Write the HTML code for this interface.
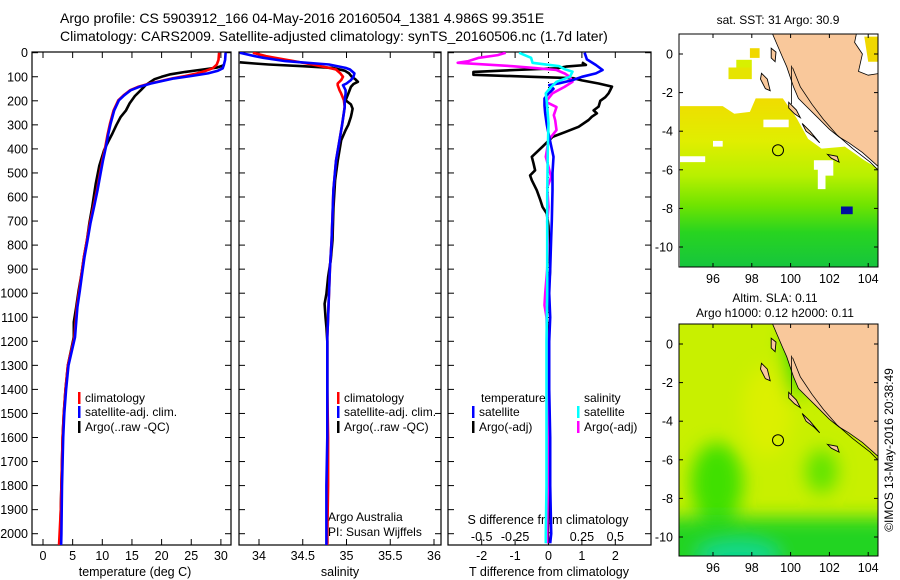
<!DOCTYPE html>
<html><head><meta charset="utf-8">
<style>
html,body{margin:0;padding:0;background:#fff;}
svg{display:block;font-family:"Liberation Sans",sans-serif;}
text{fill:#000;}
</style></head>
<body>
<svg id="fig" width="900" height="580" viewBox="0 0 900 580" xmlns="http://www.w3.org/2000/svg">
<defs>
<clipPath id="c1"><rect x="32" y="52" width="199" height="493"/></clipPath>
<clipPath id="c2"><rect x="239" y="52" width="202" height="493"/></clipPath>
<clipPath id="c3"><rect x="448" y="52" width="203" height="493"/></clipPath>
<clipPath id="m1"><rect x="679" y="34" width="199" height="233"/></clipPath>
<clipPath id="m2"><rect x="679" y="324" width="199" height="232"/></clipPath>
<linearGradient id="sstg" x1="0" y1="0" x2="0" y2="1">
<stop offset="0" stop-color="#f0dc00"/><stop offset="0.25" stop-color="#e0ee00"/>
<stop offset="0.45" stop-color="#b8f000"/><stop offset="0.62" stop-color="#70e400"/>
<stop offset="0.78" stop-color="#28d420"/><stop offset="1" stop-color="#14c440"/>
</linearGradient>
<filter id="blur" x="-50%" y="-50%" width="200%" height="200%"><feGaussianBlur stdDeviation="9"/></filter>
</defs>
<g id="texts">
<text x="60" y="23" font-size="14">Argo profile: CS 5903912_166 04-May-2016 20160504_1381 4.986S 99.351E</text>
<text x="60" y="41" font-size="14">Climatology: CARS2009. Satellite-adjusted climatology: synTS_20160506.nc (1.7d later)</text>
<text x="135" y="576" font-size="12.5" text-anchor="middle">temperature (deg C)</text>
<text x="340" y="576" font-size="12.5" text-anchor="middle">salinity</text>
<text x="549" y="576" font-size="12.5" text-anchor="middle">T difference from climatology</text>
<text x="548" y="524" font-size="12.5" text-anchor="middle">S difference from climatology</text>
<text x="328" y="521" font-size="12">Argo Australia</text>
<text x="328" y="536" font-size="12">PI: Susan Wijffels</text>
<text x="778" y="24" font-size="12" text-anchor="middle">sat. SST: 31  Argo: 30.9</text>
<text x="775" y="302" font-size="12" text-anchor="middle">Altim. SLA: 0.11</text>
<text x="775" y="317" font-size="12" text-anchor="middle">Argo h1000: 0.12 h2000: 0.11</text>
<text x="893" y="450" font-size="12" text-anchor="middle" transform="rotate(-90 893 450)">©IMOS 13-May-2016 20:38:49</text>
</g>
<g id="maps"></g>
<g id="axes"></g>
<g id="series"></g>
<g id="legends"></g>
</svg>
<script>
// ---- data ----
const depthTemp = [0,30,50,65,75,86,97,107,118,128,142,156,177,198,240,295,340,392,450,503,570,642,710,781,850,920,990,1058,1120,1183,1300,1400,1500,1600,1700,1800,1900,2000,2050];
const tempSat = [30.8,30.7,30.5,30.3,29.5,27.8,25,22.1,20,18.2,16.2,14.8,13.7,12.8,12.0,11.4,11.0,10.6,10.1,9.7,9.2,8.6,8.0,7.5,7.0,6.6,6.2,5.8,5.6,5.4,4.3,3.9,3.6,3.4,3.3,3.2,3.15,3.1,3.05];
const tempClim = [29.7,29.6,29.3,28.6,27.5,26,24,21.8,19.8,18,16.0,14.7,13.6,12.7,11.9,11.3,10.9,10.5,10.0,9.6,9.1,8.5,7.9,7.4,6.9,6.5,6.1,5.7,5.5,5.3,4.2,3.8,3.5,3.3,3.2,3.1,3.0,2.8,2.7];
const depthTempArgo = [50,55,62,70,80,90,100,110,120,135,156,180,211,240,267,300,336,370,405,470,544,642,710,781,850,920,990,1058,1120,1183,1300,1400,1500,1600,1700,1800,1900,2000,2040];
const tempArgo = [30.6,30.2,29.3,27,24,21.5,20,18.8,18.2,17.3,16.5,15.5,14.6,14.0,13.1,12.4,11.7,11.0,10.3,9.5,8.9,8.3,7.8,7.4,6.9,6.5,6.0,5.6,5.2,5.2,4.2,3.8,3.5,3.3,3.2,3.1,3.0,2.9,2.8];
const depthSal = [0,14,21,35,49,63,70,86,100,114,128,135,156,170,198,226,300,364,450,572,680,780,900,1000,1100,1183,1400,1600,1800,2000,2050];
const salSat = [33.78,33.95,34.05,34.30,34.80,34.99,35.04,35.09,35.08,35.05,35.0,34.96,34.99,34.99,34.98,34.98,34.95,34.92,34.88,34.85,34.84,34.83,34.81,34.80,34.79,34.78,34.78,34.78,34.77,34.77,34.77];
const salClim = [33.93,34.08,34.18,34.40,34.61,34.80,34.88,34.93,34.96,34.94,34.90,34.90,34.92,34.94,34.97,34.98,34.95,34.92,34.88,34.85,34.84,34.83,34.81,34.80,34.79,34.78,34.78,34.79,34.79,34.78,34.78];
const depthSalArgo = [40,45,49,56,63,75,86,100,110,121,130,142,170,198,215,233,250,267,300,322,364,450,530,650,780,860,933,1003,1044,1100,1141,1200,1400,1600,1800,2000,2040];
const salArgo = [33.78,33.95,34.11,34.5,34.84,34.98,35.03,35.06,35.10,35.13,35.08,35.05,35.02,34.99,35.05,35.07,35.06,35.05,35.02,34.99,34.94,34.90,34.87,34.85,34.84,34.82,34.79,34.77,34.75,34.76,34.77,34.78,34.78,34.78,34.78,34.78,34.78];
const depthTDiffArgo = [40,51,58,65,72,80,92,100,106,115,128,141,155,169,185,200,224,240,252,266,280,308,330,350,391,433,460,489,510,530,572,610,641,669,720,800,900,1000,1100,1200,1300,1400,1500,1600,1700,1800,1900,2000,2040];
const tDiffArgo = [1.0,1.12,0.52,0.25,-1.0,-2.25,-2.25,-0.5,0.75,1.0,1.5,1.9,1.85,1.8,1.7,1.55,1.5,1.35,1.45,1.3,1.2,0.9,0.5,0.12,-0.18,-0.5,-0.45,-0.4,-0.55,-0.5,-0.35,-0.25,-0.18,-0.05,0.0,0.02,0.05,0.0,-0.05,0.0,0.02,0.0,0.02,-0.02,0.0,0.02,0.0,-0.02,0.0];
const depthTDiffSat = [0,28,51,72,86,100,114,128,135,150,170,190,220,253,300,336,400,433,500,572,700,767,900,1000,1100,1200,1400,1600,1800,2000,2040];
const tDiffSat = [1.08,1.15,1.42,1.62,1.42,1.0,0.72,0.3,0.02,0.15,0.0,-0.12,-0.12,-0.1,-0.05,0.0,0.1,0.15,0.12,0.12,0.1,0.08,0.05,0.02,0.05,0.02,0.02,0.05,0.05,0.08,0.05];
const depthSDiffArgo = [0,10,21,35,42,50,56,64,72,86,100,121,142,169,204,226,260,281,322,364,433,517,560,641,700,800,900,1000,1050,1100,1200,1400,1600,1800,2000,2040];
const sDiffArgo = [-0.32,-0.38,-0.52,-0.6,-0.68,-0.45,-0.27,-0.1,0.06,0.12,0.16,0.18,0.12,0.03,-0.02,0.06,0.04,0.05,0.06,0.0,-0.02,0.02,-0.01,0.0,-0.01,-0.005,-0.01,-0.025,-0.03,-0.015,-0.01,-0.01,-0.005,-0.005,-0.01,-0.01];
const depthSDiffSat = [0,10,21,42,56,68,79,100,121,142,169,220,294,400,600,800,1000,1200,1400,1600,1800,2000,2040];
const sDiffSat = [-0.22,-0.18,-0.13,-0.12,0.08,0.12,0.18,0.16,0.06,0.02,-0.02,-0.01,0.0,-0.005,-0.01,-0.01,-0.01,-0.015,-0.015,-0.015,-0.015,-0.02,-0.02];
const depthTicks = [0,100,200,300,400,500,600,700,800,900,1000,1100,1200,1300,1400,1500,1600,1700,1800,1900,2000];
const tempTicks = [0,5,10,15,20,25,30];
const salTicks = [34,34.5,35,35.5,36];
const tDiffTicks = [-2,-1,0,1,2];
const sDiffTicks = [-0.5,-0.25,0,0.25,0.5];
const sDiffTickLabels = ["-0.5","-0.25","0","0.25","0.5"];
const argoLon = 99.351, argoLat = -4.986;
const lonTicks = [96,98,100,102,104];
const latTicks = [0,-2,-4,-6,-8,-10];

// ---- scales ----
const NS="http://www.w3.org/2000/svg";
const yD = d => 52.7 + d*0.2405;
const xT = t => 43 + t*5.93;
const xS = s => 259 + (s-34)*87.5;
const xTD = t => 548.5 + t*33.4;
const xSD = s => 548.5 + s*133.6;
const lonX = l => 713 + (l-96)*19.4;
const latY1 = l => 54 - l*19.3;
const latY2 = l => 344 - l*19.3;

function mk(tag, attrs, parent){const e=document.createElementNS(NS,tag);for(const k in attrs)e.setAttribute(k,attrs[k]);parent.appendChild(e);return e;}
const axes=document.getElementById('axes'), series=document.getElementById('series'), legends=document.getElementById('legends'), maps=document.getElementById('maps');

// ---- panels ----
const panels=[{x:32,w:199,n:'temperature-panel'},{x:239,w:202,n:'salinity-panel'},{x:448,w:203,n:'difference-panel'}];
panels.forEach(p=>{
  const r=mk('rect',{x:p.x,y:52,width:p.w,height:493,fill:'none',stroke:'#000','stroke-width':1.2},axes);
  
  
  depthTicks.forEach(d=>{
    mk('line',{x1:p.x,x2:p.x+6,y1:yD(d),y2:yD(d),stroke:'#000'},axes);
    mk('line',{x1:p.x+p.w-6,x2:p.x+p.w,y1:yD(d),y2:yD(d),stroke:'#000'},axes);
  });
});
depthTicks.forEach(d=>{
  const t=mk('text',{x:28,y:yD(d)+4.5,'font-size':12.5,'text-anchor':'end'},axes);
  t.textContent=d;
  
  
});
function xticks(vals,labels,fx,ly){
  vals.forEach((v,i)=>{
    const x=fx(v);
    mk('line',{x1:x,x2:x,y1:52,y2:58,stroke:'#000'},axes);
    mk('line',{x1:x,x2:x,y1:539,y2:545,stroke:'#000'},axes);
    const t=mk('text',{x:x,y:ly,'font-size':12.5,'text-anchor':'middle'},axes);
    t.textContent=labels[i];
    
    
  });
}
xticks(tempTicks,tempTicks.map(String),xT,560);
xticks(salTicks,salTicks.map(String),xS,560);
xticks(tDiffTicks,tDiffTicks.map(String),xTD,560);
sDiffTicks.forEach((v,i)=>{
  const t=mk('text',{x:xSD(v),y:541,'font-size':12.5,'text-anchor':'middle'},axes);
  t.textContent=sDiffTickLabels[i];
  
  
});
const zl=mk('line',{x1:xTD(0),x2:xTD(0),y1:52,y2:545,stroke:'#000','stroke-dasharray':'1 4','stroke-width':1},axes);



// ---- series ----
function line(vals,depths,fx,color,clip,name){
  const pts=vals.map((v,i)=>fx(v).toFixed(1)+','+yD(depths[i]).toFixed(1)).join(' ');
  const e=mk('polyline',{points:pts,fill:'none',stroke:color,'stroke-width':2.6,'stroke-linejoin':'round','clip-path':'url(#'+clip+')'},series);
  
  
}
line(tempArgo,depthTempArgo,xT,'#000','c1','temperature-argo-line');
line(tempClim,depthTemp,xT,'#f00','c1','temperature-climatology-line');
line(tempSat,depthTemp,xT,'#00f','c1','temperature-satellite-line');
line(salArgo,depthSalArgo,xS,'#000','c2','salinity-argo-line');
line(salClim,depthSal,xS,'#f00','c2','salinity-climatology-line');
line(salSat,depthSal,xS,'#00f','c2','salinity-satellite-line');
line(tDiffArgo,depthTDiffArgo,xTD,'#000','c3','t-diff-argo-line');
line(sDiffArgo,depthSDiffArgo,xSD,'#f0f','c3','s-diff-argo-line');
line(tDiffSat,depthTDiffSat,xTD,'#00f','c3','t-diff-satellite-line');
line(sDiffSat,depthSDiffSat,xSD,'#0ff','c3','s-diff-satellite-line');

// ---- legends ----
function legend(x,y,color,label,name){
  mk('rect',{x:x,y:y-10,width:2.5,height:12,fill:color},legends);
  const t=mk('text',{x:x+7,y:y,'font-size':12},legends);
  t.textContent=label;
  
  
}
legend(78,402,'#f00','climatology','legend-climatology');
legend(78,416,'#00f','satellite-adj. clim.','legend-satellite-adj');
legend(78,431,'#000','Argo(..raw -QC)','legend-argo-raw');
legend(337,402,'#f00','climatology','legend-sal-climatology');
legend(337,416,'#00f','satellite-adj. clim.','legend-sal-satellite-adj');
legend(337,431,'#000','Argo(..raw -QC)','legend-sal-argo-raw');
(function(){const t=mk('text',{x:481,y:402,'font-size':12},legends);t.textContent='temperature';


const s=mk('text',{x:584,y:402,'font-size':12},legends);s.textContent='salinity';

})();
legend(472,416,'#00f','satellite','legend-t-satellite');
legend(472,431,'#000','Argo(-adj)','legend-t-argo');
legend(577,416,'#0ff','satellite','legend-s-satellite');
legend(577,431,'#f0f','Argo(-adj)','legend-s-argo');

// ---- maps ----
const landPoly=[[99.0,1.2],[99.3,0.5],[99.6,-0.2],[99.8,-0.66],[100.15,-1.7],[100.4,-2.3],[100.8,-2.7],[101.4,-3.3],[102.0,-3.9],[102.5,-4.3],[103.0,-4.6],[103.7,-5.1],[104.6,-5.9],[104.6,1.2]];
const islands=[[[98.5,-1.0],[98.8,-1.3],[98.95,-1.9],[98.7,-1.8],[98.45,-1.3]],[[99.0,0.3],[99.25,0.1],[99.2,-0.4],[99.0,-0.2]],[[99.9,-2.5],[100.3,-2.9],[100.5,-3.3],[100.2,-3.1],[99.9,-2.8]],[[101.9,-5.2],[102.4,-5.3],[102.5,-5.6],[102.1,-5.4]],[[100.6,-3.6],[101.0,-4.0],[101.5,-4.6],[101.2,-4.3],[100.8,-4.0]]];
const contour=[[100.1,-0.7],[100.5,-1.7],[101.1,-2.6],[101.7,-3.4],[102.4,-4.2],[103.2,-4.9],[104.1,-5.6],[104.5,-6.0]];
function poly(pts,fy){return pts.map(p=>lonX(p[0]).toFixed(1)+','+fy(p[1]).toFixed(1)).join(' ');}
function drawMap(fy,top,clip,kind){
  const g=mk('g',{'clip-path':'url(#'+clip+')'},maps);
  
  
  if(kind==='sst'){
    mk('rect',{x:679,y:top,width:199,height:233,fill:'#fff'},g);
    const sea=[[94.3,-2.7],[96.5,-2.7],[97.1,-3.1],[97.9,-3.0],[98.2,-2.3],[99.6,-2.3],[100.3,-3.3],[100.9,-4.4],[101.6,-4.9],[102.8,-4.8],[103.8,-5.5],[104.6,-6.0],[104.6,-11.2],[94.3,-11.2]];
    mk('polygon',{points:poly(sea,fy),fill:'url(#sstg)'},g);
    mk('polygon',{points:poly([[98.6,-3.4],[99.9,-3.4],[99.9,-3.8],[98.6,-3.8]],fy),fill:'#fff'},g);
    mk('polygon',{points:poly([[94.3,-5.3],[95.6,-5.3],[95.6,-5.6],[94.3,-5.6]],fy),fill:'#fff'},g);
    mk('polygon',{points:poly([[96.0,-4.5],[96.5,-4.5],[96.5,-4.8],[96.0,-4.8]],fy),fill:'#fff'},g);
    mk('polygon',{points:poly([[101.2,-5.5],[102.2,-5.5],[102.2,-6.3],[101.8,-6.3],[101.8,-7.0],[101.4,-7.0],[101.4,-6.0],[101.2,-6.0]],fy),fill:'#fff'},g);
    mk('polygon',{points:poly([[96.8,-0.7],[98.0,-0.7],[98.0,-1.3],[96.8,-1.3]],fy),fill:'#e6e400'},g);
    mk('polygon',{points:poly([[97.2,-0.3],[98.0,-0.3],[98.0,-0.7],[97.2,-0.7]],fy),fill:'#d8f000'},g);
    mk('polygon',{points:poly([[97.9,0.3],[98.4,0.3],[98.4,-0.2],[97.9,-0.2]],fy),fill:'#f0d800'},g);
    mk('polygon',{points:poly([[102.6,-7.9],[103.2,-7.9],[103.2,-8.3],[102.6,-8.3]],fy),fill:'#0010a0'},g);
  } else {
    mk('rect',{x:679,y:top,width:199,height:232,fill:'#c8f000'},g);
    const bl=mk('g',{filter:'url(#blur)'},g);
    mk('ellipse',{cx:lonX(98.8),cy:fy(-3.5),rx:25,ry:45,fill:'#dcf000'},bl);
    mk('ellipse',{cx:lonX(96.2),cy:fy(-7.2),rx:26,ry:40,fill:'#40e000'},bl);
    mk('ellipse',{cx:lonX(101.6),cy:fy(-6.6),rx:16,ry:22,fill:'#60e400'},bl);
    mk('ellipse',{cx:lonX(100.3),cy:fy(-0.8),rx:12,ry:40,fill:'#40e000'},bl);
    mk('rect',{x:660,y:fy(-9.0),width:240,height:80,fill:'#24d424'},bl);
    mk('ellipse',{cx:lonX(97.3),cy:fy(-11),rx:40,ry:14,fill:'#10d890'},bl);
    mk('polygon',{points:poly([[103.3,1.1],[103.2,0.3],[103.6,-0.3],[103.4,-1.0],[104.6,-1.0],[104.6,1.1]],fy),fill:'#30e020'},g);
  }
  mk('polygon',{points:poly(landPoly,fy),fill:'#f9c89b',stroke:'#000','stroke-width':0.8},g);
  if(kind==='sst'){
    mk('polygon',{points:poly([[103.4,1.1],[103.3,0.6],[103.7,0.0],[103.5,-0.9],[104.0,-1.1],[104.6,-1.0],[104.6,1.1]],fy),fill:'#fff',stroke:'#000','stroke-width':0.8},g);
    mk('polygon',{points:poly([[103.8,0.9],[104.6,0.9],[104.6,-0.4],[104.0,-0.4]],fy),fill:'#f0d800'},g);
  }
  islands.forEach(isl=>mk('polygon',{points:poly(isl,fy),fill:'#f9c89b',stroke:'#000','stroke-width':0.9},g));
  mk('polyline',{points:poly(contour,fy),fill:'none',stroke:'#000','stroke-width':0.8},g);
  mk('line',{x1:lonX(100.05),x2:lonX(100.05),y1:fy(-0.6),y2:fy(-2.6),stroke:'#000','stroke-width':0.8},g);
  const c=mk('circle',{cx:lonX(argoLon),cy:fy(argoLat),r:5.5,fill:'none',stroke:'#000','stroke-width':1},maps);
  
  
  mk('rect',{x:679,y:top,width:199,height:(kind==='sst'?233:232),fill:'none',stroke:'#000','stroke-width':1},maps);
  const bottom=top+(kind==='sst'?233:232);
  lonTicks.forEach(l=>{
    mk('line',{x1:lonX(l),x2:lonX(l),y1:top,y2:top+4,stroke:'#000'},maps);
    mk('line',{x1:lonX(l),x2:lonX(l),y1:bottom-4,y2:bottom,stroke:'#000'},maps);
    const t=mk('text',{x:lonX(l),y:bottom+16,'font-size':12.5,'text-anchor':'middle'},maps);
    t.textContent=l;
    
    
  });
  latTicks.forEach(l=>{
    mk('line',{x1:679,x2:683,y1:fy(l),y2:fy(l),stroke:'#000'},maps);
    mk('line',{x1:874,x2:878,y1:fy(l),y2:fy(l),stroke:'#000'},maps);
    const t=mk('text',{x:673,y:fy(l)+4.5,'font-size':12.5,'text-anchor':'end'},maps);
    t.textContent=l;
    
    
  });
}
drawMap(latY1,34,'m1','sst');
drawMap(latY2,324,'m2','sla');
</script>
</body></html>
